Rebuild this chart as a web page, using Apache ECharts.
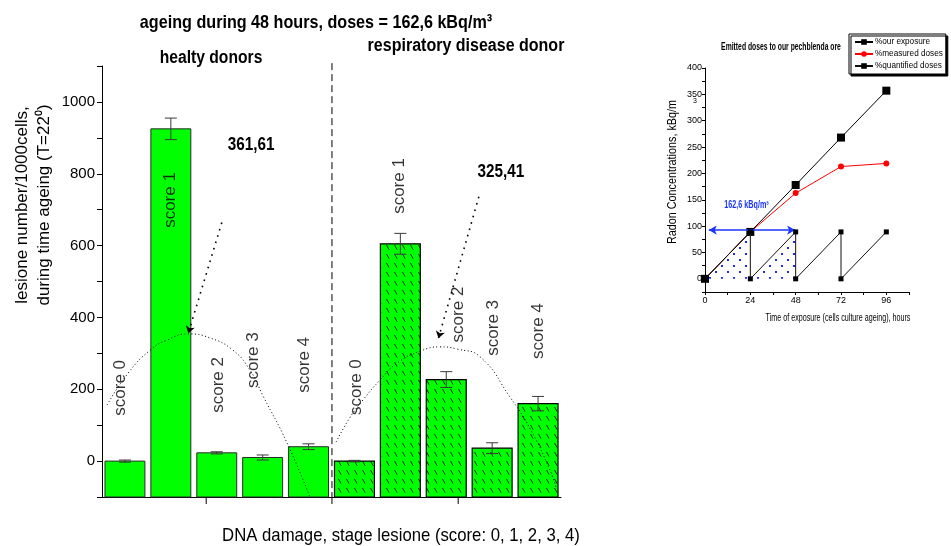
<!DOCTYPE html>
<html><head><meta charset="utf-8">
<script src="https://cdn.jsdelivr.net/npm/echarts@6/dist/echarts.min.js"></script>
<style>html,body{margin:0;padding:0;background:#fff}#c{width:951px;height:546px}</style>
</head><body><div id="c"></div>
<script>
// ---------- main chart data ----------
const groups = ['healty donors', 'respiratory disease donor'];
const scores = ['score 0', 'score 1', 'score 2', 'score 3', 'score 4'];
const healthyValues = [0, 925, 23, 10, 40];
const healthyErrors = [3, 30, 3, 7, 8];
const respValues = [0, 605, 227, 36, 160];
const respErrors = [2, 29, 22, 15, 20];
const yTickLabels = [0, 200, 400, 600, 800, 1000];
const yMin = -100, yMax = 1100;

// dotted curves (x in bar-slot units, y in lesions)
const healthyCurveX = [-0.39, 0.07, 0.55, 0.92, 1.37, 1.85, 2.35, 2.72, 3.01, 3.53, 4.03];
const healthyCurveY = [156, 245, 309, 337, 354, 343, 309, 254, 181, 51, -100];
const respCurveX = [4.60, 4.90, 5.19, 5.56, 5.93, 6.43, 6.86, 7.23, 7.74, 8.39, 8.82, 9.26, 9.39];
const respCurveY = [53, 121, 171, 226, 273, 306, 318, 312, 290, 178, 92, -25, -72];
const healthyArrowFrom = [2.11, 664], healthyArrowTo = [1.38, 356];
const respArrowFrom = [7.71, 736], respArrowTo = [6.83, 342];
const dividerX = 4.51;
const xTickPositions = [1.77, 4.51, 7.26];

// in-plot annotations
const scoreLabelX = [-0.11, 0.98, 2.03, 2.79, 3.90, 5.03, 5.97, 7.26, 8.02, 9.00];
const scoreLabelY = [204, 727, 212, 281, 268, 206, 766, 408, 371, 362];
const peakLabels = ['361,61', '325,41'];
const peakLabelX = [2.75, 8.19];
const peakLabelY = [880, 804];

// ---------- inset data ----------
const hours = [0, 24, 48, 72, 96];
const ourExposure = [0, 89, 178, 268, 357];
const measuredDoses = [0, 89, 162.6, 213, 219];
const quantifiedX = [0, 24, 24, 48, 48, 72, 72, 96];
const quantifiedY = [0, 89, 0, 89, 0, 89, 0, 89];
const hatchX = [0, 24, 24, 48, 48];
const hatchY = [0, 89, 0, 89, 0];
const arrowFrom = [2, 92.5], arrowTo = [47.7, 92.5];
const doseLabel = '162,6 kBq/m³';
const doseLabelPos = [22, 140];
const insetYLabels = [0, 50, 100, 150, 200, 250, 300, 350, 400];
const insetXLabels = [0, 24, 48, 72, 96];

const FF = '"Liberation Sans", Arial, Helvetica, sans-serif';
const categories = [];
groups.forEach(g => scores.forEach(s => categories.push(g + ' ' + s)));
const allValues = healthyValues.concat(respValues);
const allErrors = healthyErrors.concat(respErrors);

function hatchCanvas() {
  const c = document.createElement('canvas'); c.width = 8; c.height = 9;
  const g = c.getContext('2d');
  g.fillStyle = '#00ff00'; g.fillRect(0, 0, 8, 9);
  g.strokeStyle = '#111'; g.lineWidth = 0.9;
  g.beginPath(); g.moveTo(2.5, 2); g.lineTo(5, 6.5); g.stroke();
  return c;
}
function dotCanvas() {
  const c = document.createElement('canvas'); c.width = 12; c.height = 12;
  const g = c.getContext('2d');
  g.fillStyle = '#1e2cf0';
  g.fillRect(1, 1, 2, 2); g.fillRect(7, 7, 2, 2);
  return c;
}
const hatchPattern = { image: hatchCanvas(), repeat: 'repeat' };
const dotPattern = { image: dotCanvas(), repeat: 'repeat' };

const chart = echarts.init(document.getElementById('c'), null, { renderer: 'canvas' });

const option = {
  animation: false,
  backgroundColor: '#fff',
  textStyle: { fontFamily: FF },
  legend: {
    data: ['%our exposure', '%measured doses', '%quantified doses'],
    orient: 'vertical', left: 849, top: 34,
    padding: [4, 3, 4, 5], itemGap: 4, itemWidth: 18, itemHeight: 7,
    borderColor: '#000', borderWidth: 1, backgroundColor: '#fff',
    shadowColor: '#000', shadowOffsetX: 2, shadowOffsetY: 2, shadowBlur: 0,
    textStyle: { fontSize: 8.2, color: '#000', fontFamily: FF, padding: [0, 0, 0, -3] },
    selectedMode: false
  },
  grid: [
    { left: 102, top: 66, width: 459, height: 431 },
    { left: 705, top: 68, width: 204, height: 224 }
  ],
  xAxis: [
    { type: 'category', gridIndex: 0, data: categories, boundaryGap: true,
      axisLine: { onZero: false, lineStyle: { color: '#000', width: 1 } },
      axisTick: { show: false }, axisLabel: { show: false }, splitLine: { show: false } },
    { type: 'value', gridIndex: 0, min: -0.5, max: 9.5, show: false },
    { type: 'value', gridIndex: 1, min: 0, max: 108, interval: 12,
      axisLine: { onZero: false, lineStyle: { color: '#000' } },
      axisTick: { length: 3, lineStyle: { color: '#000' } },
      axisLabel: { fontSize: 9, color: '#000', margin: 4, fontFamily: FF,
        formatter: v => insetXLabels.includes(v) ? String(v) : '' },
      splitLine: { show: false } }
  ],
  yAxis: [
    { type: 'value', gridIndex: 0, min: yMin, max: yMax, interval: 100,
      axisLine: { show: true, onZero: false, lineStyle: { color: '#000' } },
      axisTick: { show: true, length: 5, lineStyle: { color: '#000' } },
      axisLabel: { fontSize: 15, color: '#000', margin: 7, fontFamily: FF,
        formatter: v => yTickLabels.includes(v) ? String(v) : '' },
      splitLine: { show: false } },
    { type: 'value', gridIndex: 1, min: -25, max: 400, interval: 25,
      axisLine: { show: true, onZero: false, lineStyle: { color: '#000' } },
      axisTick: { show: true, length: 3, lineStyle: { color: '#000' } },
      axisLabel: { fontSize: 9, color: '#000', margin: 3, fontFamily: FF,
        formatter: v => insetYLabels.includes(v) ? String(v) : '' },
      splitLine: { show: false } }
  ],
  series: [
    { // bars (from axis minimum up to value)
      name: 'lesions', type: 'custom', xAxisIndex: 0, yAxisIndex: 0, z: 2,
      data: allValues.map((v, i) => [i, v]),
      renderItem: (params, api) => {
        const i = api.value(0), v = api.value(1);
        const top = api.coord([i, v]);
        const base = api.coord([i, yMin]);
        const w = api.size([1, 0])[0] * 0.87;
        const resp = params.dataIndex >= healthyValues.length;
        return {
          type: 'rect',
          shape: { x: top[0] - w / 2, y: top[1], width: w, height: base[1] - top[1] },
          style: { fill: resp ? hatchPattern : '#00ff00', stroke: resp ? '#000' : '#2b2b2b', lineWidth: resp ? 1.2 : 1 }
        };
      }
    },
    { // error bars
      name: 'error', type: 'custom', xAxisIndex: 0, yAxisIndex: 0, z: 4,
      data: allValues.map((v, i) => [i, v - allErrors[i], v + allErrors[i]]),
      renderItem: (params, api) => {
        const i = api.value(0);
        const lo = api.coord([i, api.value(1)]);
        const hi = api.coord([i, api.value(2)]);
        const hw = 6, st = { stroke: '#3a3a3a', lineWidth: 1 };
        return { type: 'group', children: [
          { type: 'line', shape: { x1: lo[0], y1: lo[1], x2: hi[0], y2: hi[1] }, style: st },
          { type: 'line', shape: { x1: lo[0] - hw, y1: lo[1], x2: lo[0] + hw, y2: lo[1] }, style: st },
          { type: 'line', shape: { x1: hi[0] - hw, y1: hi[1], x2: hi[0] + hw, y2: hi[1] }, style: st }
        ] };
      }
    },
    { // healthy dotted curve
      name: 'healthyCurve', type: 'line', xAxisIndex: 1, yAxisIndex: 0, z: 5,
      data: healthyCurveX.map((x, i) => [x, healthyCurveY[i]]),
      smooth: true, symbol: 'none', clip: false, silent: true,
      lineStyle: { color: '#000', width: 1, type: [1, 2.5] },
      markLine: {
        silent: true, symbol: ['none', 'arrow'], symbolSize: 7, label: { show: false },
        lineStyle: { color: '#000', width: 1.6, type: [1.6, 5] },
        data: [[{ coord: healthyArrowFrom }, { coord: healthyArrowTo }]]
      }
    },
    { // respiratory dotted curve
      name: 'respCurve', type: 'line', xAxisIndex: 1, yAxisIndex: 0, z: 5,
      data: respCurveX.map((x, i) => [x, respCurveY[i]]),
      smooth: true, symbol: 'none', clip: false, silent: true,
      lineStyle: { color: '#000', width: 1, type: [1, 2.5] },
      markLine: {
        silent: true, symbol: ['none', 'arrow'], symbolSize: 7, label: { show: false },
        lineStyle: { color: '#000', width: 1.6, type: [1.6, 5] },
        data: [[{ coord: respArrowFrom }, { coord: respArrowTo }]]
      }
    },
    { // dashed group divider
      name: 'divider', type: 'line', xAxisIndex: 1, yAxisIndex: 0, z: 3,
      data: [[dividerX, yMax + 8], [dividerX, yMin]],
      symbol: 'none', clip: false, silent: true,
      lineStyle: { color: '#000', width: 1, type: [7, 4] }
    },
    { // x axis ticks
      name: 'xticks', type: 'custom', xAxisIndex: 1, yAxisIndex: 0, clip: false, silent: true, z: 3,
      data: xTickPositions.map(x => [x]),
      renderItem: (params, api) => {
        const p = api.coord([api.value(0), yMin]);
        return { type: 'line', shape: { x1: p[0], y1: p[1], x2: p[0], y2: p[1] + 7 }, style: { stroke: '#000', lineWidth: 1 } };
      }
    },
    { // rotated score labels
      name: 'scoreLabels', type: 'scatter', xAxisIndex: 1, yAxisIndex: 0, z: 6,
      symbolSize: 1, itemStyle: { color: 'rgba(0,0,0,0)' }, silent: true,
      data: scoreLabelX.map((x, i) => ({ value: [x, scoreLabelY[i]], name: scores[i % scores.length] })),
      label: { show: true, position: 'inside', rotate: 90, formatter: p => p.name,
        fontSize: 17, color: '#000', fontFamily: FF }
    },
    // ---------- inset ----------
    { name: 'hatch', type: 'line', xAxisIndex: 2, yAxisIndex: 1, z: 1, silent: true,
      data: hatchX.map((x, i) => [x, hatchY[i]]), symbol: 'none',
      lineStyle: { width: 0, opacity: 0 }, areaStyle: { color: dotPattern, opacity: 1 },
      markLine: { silent: true, symbol: ['arrow', 'arrow'], symbolSize: [7, 8], label: { show: false },
        lineStyle: { color: '#1a35ff', width: 1.6, type: 'solid' },
        data: [[{ coord: arrowFrom }, { coord: arrowTo }]] }
    },
    { name: '%measured doses', type: 'line', xAxisIndex: 2, yAxisIndex: 1, z: 3,
      data: hours.map((h, i) => [h, measuredDoses[i]]),
      symbol: 'circle', symbolSize: 6, color: '#ff0000',
      itemStyle: { color: '#ff0000' }, lineStyle: { color: '#ff0000', width: 1 } },
    { name: '%our exposure', type: 'line', xAxisIndex: 2, yAxisIndex: 1, z: 4,
      data: hours.map((h, i) => [h, ourExposure[i]]),
      symbol: 'rect', symbolSize: 8, color: '#000',
      itemStyle: { color: '#000' }, lineStyle: { color: '#000', width: 1 } },
    { name: '%quantified doses', type: 'line', xAxisIndex: 2, yAxisIndex: 1, z: 5,
      data: quantifiedX.map((x, i) => [x, quantifiedY[i]]),
      symbol: 'rect', symbolSize: 5, color: '#000',
      itemStyle: { color: '#000' }, lineStyle: { color: '#111', width: 1 } }
  ]
};
chart.setOption(option);

function txt(x, y, text, size, opts) {
  opts = opts || {};
  return {
    type: 'text', x: x, y: y, rotation: opts.rot || 0, scaleX: opts.sx || 1, scaleY: 1, silent: true, z: 100,
    style: { text: text, fontSize: size, fontFamily: FF, fontWeight: opts.bold ? 'bold' : 'normal',
      fill: opts.color || '#000', align: 'center', verticalAlign: 'middle' }
  };
}
const main = { xAxisIndex: 1, yAxisIndex: 0 };
const inset = { xAxisIndex: 2, yAxisIndex: 1 };
const graphics = [
  txt(316, 23, 'ageing during 48 hours, doses = 162,6 kBq/m³', 19, { bold: true, sx: 0.85 }),
  txt(211, 58, groups[0], 18, { bold: true, sx: 0.87 }),
  txt(466, 46, groups[1], 18, { bold: true, sx: 0.89 }),
  txt(401, 536, 'DNA damage, stage lesione (score: 0, 1, 2, 3, 4)', 19, { sx: 0.88 }),
  txt(22, 205, 'lesione number/1000cells,', 17, { rot: Math.PI / 2 }),
  txt(44, 205, 'during time ageing (T=22⁰)', 17, { rot: Math.PI / 2 }),
  txt(781, 47, 'Emitted doses to our pechblenda ore', 10, { bold: true, sx: 0.68 }),
  txt(673, 172, 'Radon Concentrations, kBq/m', 12, { rot: Math.PI / 2, sx: 0.9 }),
  txt(695, 101, '3', 7),
  txt(838, 318, 'Time of exposure (cells culture ageing), hours', 11, { sx: 0.65 })
];
peakLabels.forEach((t, i) => {
  const p = chart.convertToPixel(main, [peakLabelX[i], peakLabelY[i]]);
  graphics.push(txt(p[0], p[1], t, 18, { bold: true, sx: 0.85 }));
});
const dp = chart.convertToPixel(inset, doseLabelPos);
graphics.push(txt(dp[0], dp[1], doseLabel, 10, { bold: true, sx: 0.72, color: '#1a35ff' }));
chart.setOption({ graphic: graphics });
</script></body></html>
